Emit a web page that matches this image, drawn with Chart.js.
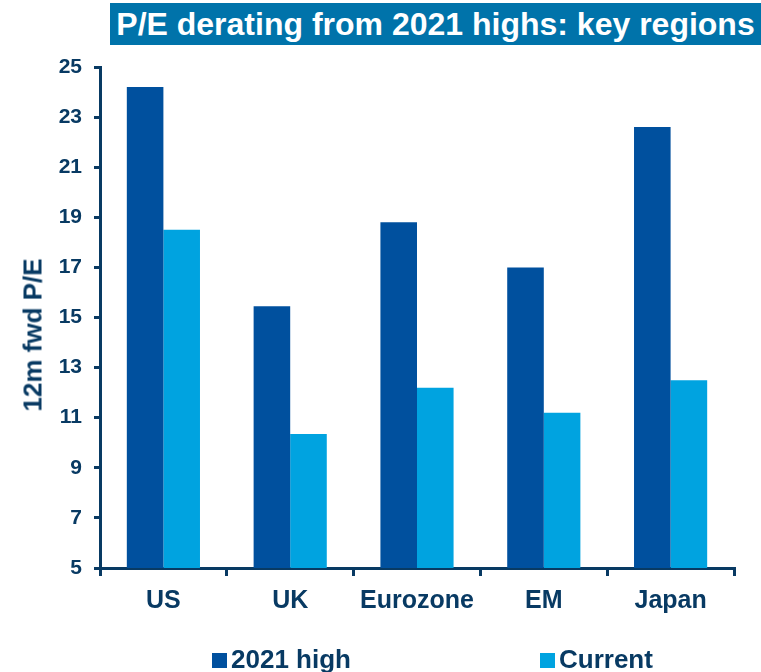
<!DOCTYPE html>
<html>
<head>
<meta charset="utf-8">
<script src="https://cdn.jsdelivr.net/npm/chart.js@4.4.1/dist/chart.umd.min.js"></script>
<style>
  html, body { margin: 0; padding: 0; background: #fff; }
  #wrap { position: relative; width: 761px; height: 672px; overflow: hidden; font-family: "Liberation Sans", Arial, sans-serif; }
  #c { position: absolute; left: 0; top: 0; }
  #title { position: absolute; left: 110px; top: 3px; width: 651px; height: 42px; background: #0073AA; color: #fff;
           font-weight: bold; font-size: 32px; line-height: 43px; text-align: center; white-space: nowrap; }
  #ytitle { position: absolute; left: 33px; top: 335px; transform: translate(-50%, -50%) rotate(-90deg);
            color: #083A63; font-weight: bold; font-size: 26px; white-space: nowrap; }
  .leg { position: absolute; top: 645px; height: 28px; line-height: 28px; color: #083A63; font-weight: bold; font-size: 26px; white-space: nowrap; }
  .leg span.box { display: inline-block; width: 15px; height: 15px; margin-right: 4px; vertical-align: 0px; }
</style>
</head>
<body>
<div id="wrap">
  <canvas id="c" width="761" height="672"></canvas>
  <div id="title">P/E derating from 2021 highs: key regions</div>
  <div id="ytitle">12m fwd P/E</div>
  <div id="legend"></div>
</div>
<script>
const categories = ["US", "UK", "Eurozone", "EM", "Japan"];
const high2021 = [24.2, 15.45, 18.8, 17.0, 22.6];
const current = [18.5, 10.35, 12.2, 11.2, 12.5];
const seriesNames = ["2021 high", "Current"];
const yTicks = [5, 7, 9, 11, 13, 15, 17, 19, 21, 23, 25];

const NAVY = "#083A63";
const DARK = "#00509E";
const LIGHT = "#00A3E0";

// HTML legend
const legendPos = [212, 540];
const legColors = [DARK, LIGHT];
const legEl = document.getElementById("legend");
seriesNames.forEach((n, i) => {
  const d = document.createElement("div");
  d.className = "leg";
  d.style.left = legendPos[i] + "px";
  d.innerHTML = '<span class="box" style="background:' + legColors[i] + '"></span>' + n;
  legEl.appendChild(d);
});

new Chart(document.getElementById("c"), {
  type: "bar",
  data: {
    labels: categories,
    datasets: [
      { label: seriesNames[0], data: high2021, backgroundColor: DARK, borderWidth: 0 },
      { label: seriesNames[1], data: current, backgroundColor: LIGHT, borderWidth: 0 }
    ]
  },
  options: {
    responsive: false,
    animation: false,
    devicePixelRatio: 1,
    layout: { padding: { top: 67, right: 27, left: 0, bottom: 0 } },
    datasets: { bar: { categoryPercentage: 0.577, barPercentage: 1.0 } },
    plugins: { legend: { display: false }, tooltip: { enabled: false }, title: { display: false } },
    scales: {
      x: {
        afterFit: s => { s.height = 104; },
        grid: { display: true, offset: true, drawOnChartArea: false, drawTicks: true, tickLength: 8, color: NAVY, lineWidth: 3 },
        border: { display: true, color: NAVY, width: 3 },
        ticks: { color: NAVY, font: { family: "Liberation Sans", size: 25, weight: "bold" }, padding: 10, maxRotation: 0 }
      },
      y: {
        min: 5, max: 25,
        afterFit: s => { s.width = 100; },
        afterBuildTicks: s => { s.ticks = yTicks.map(v => ({ value: v })); },
        grid: { display: true, drawOnChartArea: false, drawTicks: true, tickLength: 6, color: NAVY, lineWidth: 3 },
        border: { display: true, color: NAVY, width: 3 },
        ticks: { color: NAVY, font: { family: "Liberation Sans", size: 21, weight: "bold" }, padding: 12 }
      }
    }
  }
});
</script>
</body>
</html>
